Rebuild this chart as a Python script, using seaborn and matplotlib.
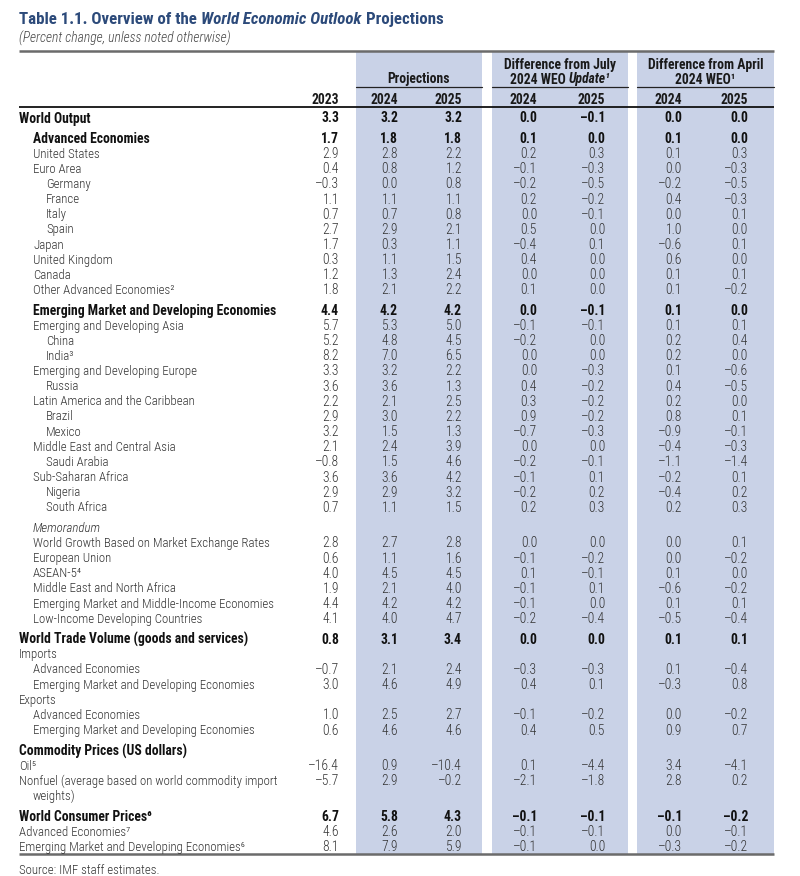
import matplotlib
matplotlib.use("Agg")
import matplotlib.pyplot as plt
import matplotlib.font_manager as fm
import seaborn as sns

# ---------------- data ----------------
row_labels = [
    "World Output", "Advanced Economies", "United States", "Euro Area", "Germany", "France",
    "Italy", "Spain", "Japan", "United Kingdom", "Canada", "Other Advanced Economies\u00b2",
    "Emerging Market and Developing Economies", "Emerging and Developing Asia", "China", "India\u00b3",
    "Emerging and Developing Europe", "Russia", "Latin America and the Caribbean", "Brazil", "Mexico",
    "Middle East and Central Asia", "Saudi Arabia", "Sub-Saharan Africa", "Nigeria", "South Africa",
    "Memorandum", "World Growth Based on Market Exchange Rates", "European Union", "ASEAN-5\u2074",
    "Middle East and North Africa", "Emerging Market and Middle-Income Economies",
    "Low-Income Developing Countries", "World Trade Volume (goods and services)", "Imports",
    "Advanced Economies", "Emerging Market and Developing Economies", "Exports",
    "Advanced Economies", "Emerging Market and Developing Economies", "Commodity Prices (US dollars)",
    "Oil\u2075", "Nonfuel (average based on world commodity import", "weights)",
    "World Consumer Prices\u2076", "Advanced Economies\u2077",
    "Emerging Market and Developing Economies\u2076",
]
N = None
v2023 = [3.3, 1.7, 2.9, 0.4, -0.3, 1.1, 0.7, 2.7, 1.7, 0.3, 1.2, 1.8, 4.4, 5.7, 5.2, 8.2, 3.3, 3.6, 2.2,
         2.9, 3.2, 2.1, -0.8, 3.6, 2.9, 0.7, N, 2.8, 0.6, 4.0, 1.9, 4.4, 4.1, 0.8, N, -0.7, 3.0, N, 1.0,
         0.6, N, -16.4, -5.7, N, 6.7, 4.6, 8.1]
proj2024 = [3.2, 1.8, 2.8, 0.8, 0.0, 1.1, 0.7, 2.9, 0.3, 1.1, 1.3, 2.1, 4.2, 5.3, 4.8, 7.0, 3.2, 3.6, 2.1,
            3.0, 1.5, 2.4, 1.5, 3.6, 2.9, 1.1, N, 2.7, 1.1, 4.5, 2.1, 4.2, 4.0, 3.1, N, 2.1, 4.6, N, 2.5,
            4.6, N, 0.9, 2.9, N, 5.8, 2.6, 7.9]
proj2025 = [3.2, 1.8, 2.2, 1.2, 0.8, 1.1, 0.8, 2.1, 1.1, 1.5, 2.4, 2.2, 4.2, 5.0, 4.5, 6.5, 2.2, 1.3, 2.5,
            2.2, 1.3, 3.9, 4.6, 4.2, 3.2, 1.5, N, 2.8, 1.6, 4.5, 4.0, 4.2, 4.7, 3.4, N, 2.4, 4.9, N, 2.7,
            4.6, N, -10.4, -0.2, N, 4.3, 2.0, 5.9]
july2024 = [0.0, 0.1, 0.2, -0.1, -0.2, 0.2, 0.0, 0.5, -0.4, 0.4, 0.0, 0.1, 0.0, -0.1, -0.2, 0.0, 0.0, 0.4,
            0.3, 0.9, -0.7, 0.0, -0.2, -0.1, -0.2, 0.2, N, 0.0, -0.1, 0.1, -0.1, -0.1, -0.2, 0.0, N, -0.3,
            0.4, N, -0.1, 0.4, N, 0.1, -2.1, N, -0.1, -0.1, -0.1]
july2025 = [-0.1, 0.0, 0.3, -0.3, -0.5, -0.2, -0.1, 0.0, 0.1, 0.0, 0.0, 0.0, -0.1, -0.1, 0.0, 0.0, -0.3,
            -0.2, -0.2, -0.2, -0.3, 0.0, -0.1, 0.1, 0.2, 0.3, N, 0.0, -0.2, -0.1, 0.1, 0.0, -0.4, 0.0, N,
            -0.3, 0.1, N, -0.2, 0.5, N, -4.4, -1.8, N, -0.1, -0.1, 0.0]
april2024 = [0.0, 0.1, 0.1, 0.0, -0.2, 0.4, 0.0, 1.0, -0.6, 0.6, 0.1, 0.1, 0.1, 0.1, 0.2, 0.2, 0.1, 0.4,
             0.2, 0.8, -0.9, -0.4, -1.1, -0.2, -0.4, 0.2, N, 0.0, 0.0, 0.1, -0.6, 0.1, -0.5, 0.1, N, 0.1,
             -0.3, N, 0.0, 0.9, N, 3.4, 2.8, N, -0.1, 0.0, -0.3]
april2025 = [0.0, 0.0, 0.3, -0.3, -0.5, -0.3, 0.1, 0.0, 0.1, 0.0, 0.1, -0.2, 0.0, 0.1, 0.4, 0.0, -0.6,
             -0.5, 0.0, 0.1, -0.1, -0.3, -1.4, 0.1, 0.2, 0.3, N, 0.1, -0.2, 0.0, -0.2, 0.1, -0.4, 0.1, N,
             -0.4, 0.8, N, -0.2, 0.7, N, -4.1, 0.2, N, -0.2, -0.1, -0.2]
columns = [v2023, proj2024, proj2025, july2024, july2025, april2024, april2025]
year_labels = ["2023", "2024", "2025", "2024", "2025", "2024", "2025"]

# ---------------- layout / style ----------------
levels = [0, 1, 1, 1, 2, 2, 2, 2, 1, 1, 1, 1, 1, 1, 2, 2, 1, 2, 1, 2, 2, 1, 2, 1, 2, 2, 1, 1, 1, 1, 1, 1,
          1, 0, 0, 1, 1, 0, 1, 1, 0, 0, 0, 1, 0, 0, 0]
bold_rows = {0, 1, 12, 33, 40, 44}
italic_rows = {26}
gap_before = {1, 12, 26, 33, 40, 44}

sns.set_theme(style="white")
avail = {f.name for f in fm.fontManager.ttflist}
FAM = "DejaVu Sans"
STRETCH = "normal"
for cand in ["Liberation Sans Narrow", "Roboto Condensed", "Open Sans Condensed", "Arial Narrow"]:
    if cand in avail:
        FAM = cand
        break
else:
    if any(f.name == "DejaVu Sans" and "ondensed" in f.fname for f in fm.fontManager.ttflist):
        STRETCH = "condensed"
plt.rcParams["font.family"] = [FAM, "DejaVu Sans"]

BAND = "#c9d2e7"
TXT = "#333333"
TITLE = "#2c4a7a"
FS = 9.3      # regular row labels
FSN = 9.8     # regular numbers
FSB = 9.8     # bold rows / headers

fig = plt.figure(figsize=(8.0, 8.76), dpi=100)
ax = fig.add_axes([0, 0, 1, 1])
ax.set_xlim(0, 800)
ax.set_ylim(876, 0)
ax.axis("off")
R = fig.canvas.get_renderer()

X0, X1 = 19, 774
bands = [(356, 482), (492, 628), (637, 774)]
col_right = [339, 398, 462, 537, 605, 682, 748]
indent = [19, 33, 46]

for a, b in bands:
    ax.axvspan(a, b, ymin=1 - 854 / 876, ymax=1 - 51 / 876, color=BAND, lw=0, zorder=0)


def rich(x, y, pieces, ha="left", size=FSB, color=TXT):
    objs = []
    for s, kw in pieces:
        t = ax.text(0, y, s.rstrip(), fontsize=size, color=color, va="center_baseline",
                    ha="left", fontstretch=STRETCH, **kw)
        w = t.get_window_extent(R).width
        if s.endswith(" "):
            w += 0.26 * size * 100 / 72
        objs.append((t, w))
    total = sum(w for _, w in objs)
    start = x if ha == "left" else (x - total / 2 if ha == "center" else x - total)
    for t, w in objs:
        t.set_x(start)
        start += w


# title
rich(19, 18, [("Table 1.1. Overview of the ", dict(fontweight="bold")),
              ("World Economic Outlook ", dict(fontweight="bold", fontstyle="italic")),
              ("Projections", dict(fontweight="bold"))], size=12.2, color=TITLE)
ax.text(19, 37, "(Percent change, unless noted otherwise)", fontsize=9.8, fontstyle="italic",
        fontweight="light", color="#444444", va="center_baseline", fontstretch=STRETCH)

# header lines
ax.plot([X0, X1], [51, 51], color="#6b6b6b", lw=1.8, solid_capstyle="butt", zorder=3)
ax.plot([X0, X1], [107, 107], color="#111111", lw=1.3, solid_capstyle="butt", zorder=3)
ax.plot([X0, X1], [854, 854], color="#6b6b6b", lw=1.8, solid_capstyle="butt", zorder=3)
for a, b in bands:
    ax.plot([a, b], [87, 87], color="#222222", lw=0.9, zorder=3)

hdr = dict(fontweight="bold")
rich((bands[0][0] + bands[0][1]) / 2, 77, [("Projections", hdr)], ha="center", color="#1a1a1a")
rich((bands[1][0] + bands[1][1]) / 2, 63, [("Difference from July", hdr)], ha="center", color="#1a1a1a")
rich((bands[1][0] + bands[1][1]) / 2, 78, [("2024 WEO ", hdr),
                                           ("Update\u00b9", dict(fontweight="bold", fontstyle="italic"))],
     ha="center", color="#1a1a1a")
rich((bands[2][0] + bands[2][1]) / 2, 63, [("Difference from April", hdr)], ha="center", color="#1a1a1a")
rich((bands[2][0] + bands[2][1]) / 2, 78, [("2024 WEO\u00b9", hdr)], ha="center", color="#1a1a1a")
for xr, lab in zip(col_right, year_labels):
    ax.text(xr, 98, lab, fontsize=FSB, fontweight="bold", ha="right", va="center_baseline",
            color="#1a1a1a", fontstretch=STRETCH)

# rows
PITCH, GAP = 15.15, 5.3
y = 117.0
for i, lab in enumerate(row_labels):
    if i > 0:
        y += PITCH + (GAP if i in gap_before else 0)
    bold = i in bold_rows
    col = "#111111" if bold else TXT
    kw = dict(color=col, va="center_baseline", fontstretch=STRETCH,
              fontweight="bold" if bold else "light",
              fontstyle="italic" if i in italic_rows else "normal")
    ax.text(indent[levels[i]], y, lab, ha="left", fontsize=FSB if bold else FS, **kw)
    for xr, vals in zip(col_right, columns):
        v = vals[i]
        if v is None:
            continue
        s = f"{v:.1f}".replace("-", "\u2013")
        ax.text(xr, y, s, ha="right", fontsize=FSB if bold else FSN, **kw)

ax.text(19, 869, "Source: IMF staff estimates.", fontsize=FS, fontweight="light", color=TXT,
        va="center_baseline", fontstretch=STRETCH)

fig.savefig("out.png", dpi=100)
